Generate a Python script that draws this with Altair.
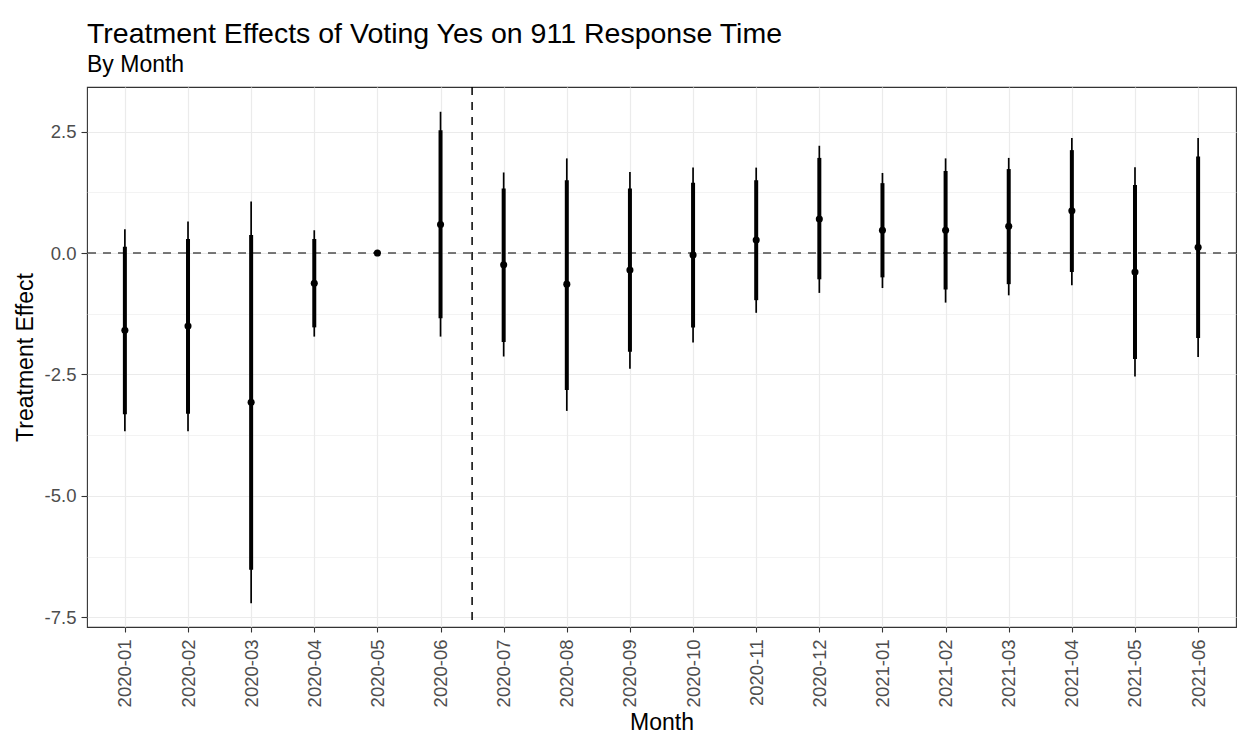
import altair as alt
import pandas as pd

months = ['2020-01', '2020-02', '2020-03', '2020-04', '2020-05', '2020-06',
          '2020-07', '2020-08', '2020-09', '2020-10', '2020-11', '2020-12',
          '2021-01', '2021-02', '2021-03', '2021-04', '2021-05', '2021-06']
estimate = [-1.59, -1.50, -3.07, -0.62, 0.00, 0.59, -0.24, -0.64, -0.35,
            -0.04, 0.27, 0.70, 0.47, 0.47, 0.55, 0.87, -0.39, 0.12]
outer_low = [-3.67, -3.67, -7.21, -1.72, 0.00, -1.72, -2.13, -3.25, -2.38,
             -1.84, -1.23, -0.82, -0.72, -1.02, -0.87, -0.66, -2.54, -2.14]
outer_high = [0.49, 0.65, 1.06, 0.47, 0.00, 2.91, 1.66, 1.95, 1.67,
              1.76, 1.76, 2.21, 1.65, 1.95, 1.96, 2.37, 1.77, 2.37]
inner_low = [-3.32, -3.31, -6.52, -1.53, 0.00, -1.34, -1.83, -2.82, -2.03,
             -1.53, -0.97, -0.54, -0.50, -0.75, -0.64, -0.39, -2.18, -1.75]
inner_high = [0.13, 0.29, 0.37, 0.29, 0.00, 2.53, 1.33, 1.50, 1.33,
              1.45, 1.50, 1.96, 1.44, 1.69, 1.73, 2.12, 1.40, 1.99]
y_ticks = [-7.5, -6.25, -5.0, -3.75, -2.5, -1.25, 0.0, 1.25, 2.5]
cutoff_position = 6.5  # between 2020-06 and 2020-07

df = pd.DataFrame({
    'idx': list(range(1, len(months) + 1)),
    'month': months,
    'estimate': estimate,
    'outer_low': outer_low,
    'outer_high': outer_high,
    'inner_low': inner_low,
    'inner_high': inner_high,
})

FONT = 'Liberation Sans'
label_expr = '[' + ','.join("'%s'" % m for m in months) + '][datum.value - 1]'

x_enc = alt.X('idx:Q',
              scale=alt.Scale(domain=[0.4, len(months) + 0.6], nice=False, zero=False),
              axis=alt.Axis(values=list(range(1, len(months) + 1)), labelExpr=label_expr,
                            labelAngle=270, labelAlign='right', labelBaseline='middle',
                            labelFontSize=18.5, labelColor='#4d4d4d', labelPadding=7,
                            tickColor='#333333', tickSize=5, tickWidth=1.1,
                            grid=True, gridColor='#ebebeb', gridWidth=1.2,
                            domain=False, title='Month', titleFontSize=23,
                            titleFontWeight='normal', titleColor='black', titlePadding=5,
                            labelFlush=False, labelOverlap=False))

minor_test = 'abs(datum.value % 2.5) > 0.01'
y_axis = alt.Axis(values=y_ticks,
                  labelExpr="abs(datum.value % 2.5) > 0.01 ? '' : replace(format(datum.value, '.1f'), '\u2212', '-')",
                  labelFontSize=18.5, labelColor='#4d4d4d', labelPadding=5,
                  tickColor='#333333', tickSize=6, tickWidth=1.1,
                  tickOpacity={'condition': {'test': minor_test, 'value': 0}, 'value': 1},
                  grid=True, gridColor='#ebebeb',
                  gridWidth={'condition': {'test': minor_test, 'value': 0.6}, 'value': 1.2},
                  domain=False, title='Treatment Effect', titleFontSize=23,
                  titleFontWeight='normal', titleColor='black', titlePadding=7,
                  labelFlush=False, labelOverlap=False)
y_scale = alt.Scale(domain=[-7.70, 3.42], nice=False, zero=False)

base = alt.Chart(df)
one = alt.InlineData(values=[{}])

hline = alt.Chart(one).mark_rule(color='#4d4d4d', strokeWidth=1.5, strokeDash=[8, 7]).encode(
    y=alt.Y(datum=0, type='quantitative', scale=y_scale, axis=y_axis))
vline = alt.Chart(one).mark_rule(color='black', strokeWidth=1.5, strokeDash=[8, 7]).encode(
    x=alt.X(datum=cutoff_position, type='quantitative'))

outer = base.mark_rule(color='black', strokeWidth=1.7).encode(
    x=x_enc,
    y=alt.Y('outer_low:Q', scale=y_scale, axis=y_axis),
    y2='outer_high:Q')
inner = base.mark_rule(color='black', strokeWidth=4).encode(
    x=x_enc,
    y=alt.Y('inner_low:Q', scale=y_scale, axis=y_axis),
    y2='inner_high:Q')
points = base.mark_circle(color='black', size=50, opacity=1).encode(
    x=x_enc,
    y=alt.Y('estimate:Q', scale=y_scale, axis=y_axis))

chart = alt.layer(outer, hline, vline, inner, points).properties(
    width=1149, height=540,
    autosize=alt.AutoSizeParams(type='none'),
    padding={'left': 87, 'top': 87, 'right': 3, 'bottom': 113},
    title=alt.TitleParams(text='Treatment Effects of Voting Yes on 911 Response Time',
                          subtitle='By Month', anchor='start', frame='group',
                          fontSize=28.5, subtitleFontSize=23, fontWeight='normal',
                          color='black', subtitleColor='black', font=FONT,
                          subtitleFont=FONT, offset=9, subtitlePadding=6),
).configure(font=FONT).configure_view(stroke='#333333', strokeWidth=1.1)

chart.save('out.html', embed_options={'renderer': 'svg', 'actions': False})
